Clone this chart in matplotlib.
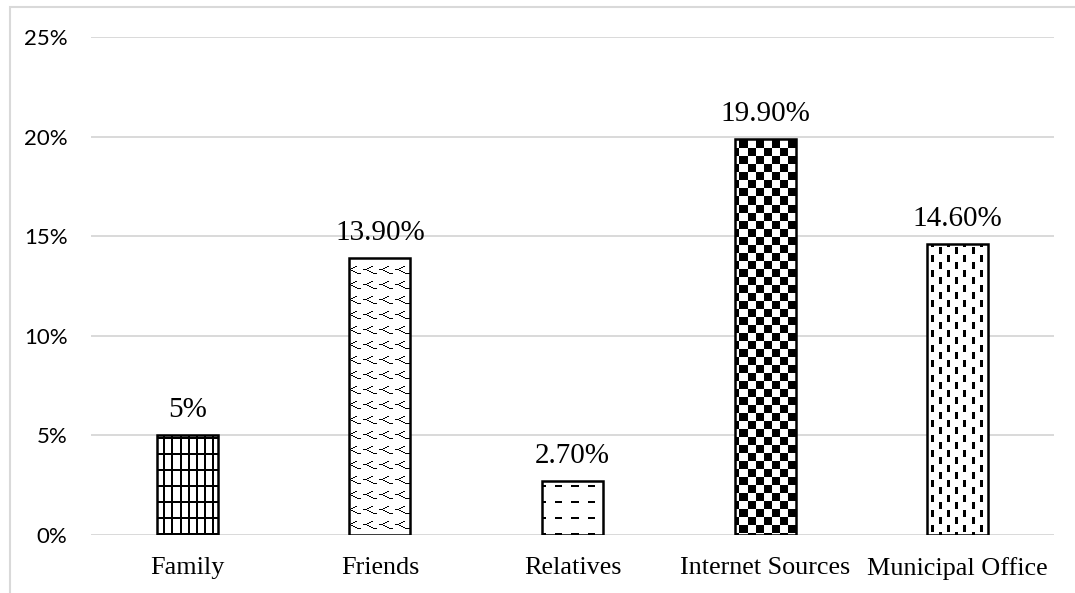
import numpy as np
import matplotlib
matplotlib.use("Agg")
import matplotlib.pyplot as plt
from matplotlib.patches import Rectangle

# Data
categories = ["Family", "Friends", "Relatives", "Internet Sources", "Municipal Office"]
values = [5.0, 13.9, 2.7, 19.9, 14.6]
yticks = [0, 5, 10, 15, 20, 25]
ytick_labels = ["0%", "5%", "10%", "15%", "20%", "25%"]


def value_label(v):
    return f"{v:g}%" if float(v).is_integer() else f"{v:.2f}%"


FIG_W, FIG_H, DPI = 1075, 593, 100
fig = plt.figure(figsize=(FIG_W / DPI, FIG_H / DPI), dpi=DPI)
fig.patch.set_facecolor("white")

ax_left, ax_right, ax_bottom, ax_top = 91, 1054, 535, 37
ax = fig.add_axes([ax_left / FIG_W, 1 - ax_bottom / FIG_H,
                   (ax_right - ax_left) / FIG_W, (ax_bottom - ax_top) / FIG_H])
xlim = (-0.5, len(categories) - 0.5)
ylim = (0, 25)

# Light frame around the chart area
fig.patches.append(Rectangle((10 / FIG_W, -0.2), 1.5, 1.2 - 7 / FIG_H,
                             transform=fig.transFigure, fill=False,
                             edgecolor="#d9d9d9", linewidth=1.5))

# Fill textures, built on the axes pixel grid
wpx = ax_right - ax_left
hpx = ax_bottom - ax_top
yy, xx = np.mgrid[0:hpx, 0:wpx]


def grid_tex():
    return ((xx % 8) < 2) | ((yy % 16) < 2)


def wave_tex():
    t = np.zeros((15, 16), dtype=bool)
    pts_up = [(7, 2), (6, 4), (5, 6), (4, 8)]
    pts_dn = [(8, 4), (9, 6), (10, 8), (11, 10)]
    for r, c in pts_up + pts_dn:
        t[r, c:c + 2] = True
    t[7, 0:3] = True
    t[11, 11:14] = True
    return np.tile(t, (hpx // 15 + 1, wpx // 16 + 1))[:hpx, :wpx]


def dash_tex():
    return ((xx % 16) < 7) & ((yy % 16) < 2)


def checker_tex():
    return ((xx // 8) + (yy // 8)) % 2 == 0


def vdash_tex():
    col = xx // 8
    shift = (col % 2) * 7
    return ((xx % 8) < 3) & (((yy + shift) % 15) < 7)


textures = [grid_tex(), wave_tex(), dash_tex(), checker_tex(), vdash_tex()]

x = np.arange(len(categories))
bar_w = 0.317

# Gridlines
for t in yticks:
    ax.axhline(t, color="#d9d9d9", linewidth=1.4, zorder=0)

bars = ax.bar(x, values, width=bar_w, facecolor="white", edgecolor="none", zorder=1)
for b, tex in zip(bars, textures):
    im = ax.imshow(tex.astype(float), cmap="gray_r", vmin=0, vmax=1,
                   extent=(xlim[0], xlim[1], ylim[0], ylim[1]), origin="upper",
                   aspect="auto", interpolation="nearest", zorder=2)
    im.set_clip_path(b)
ax.bar(x, values, width=bar_w, facecolor="none", edgecolor="black",
       linewidth=1.8, zorder=3)

for xi, v in zip(x, values):
    ax.annotate(value_label(v), (xi, v), xytext=(0, 13), textcoords="offset points",
                ha="center", va="baseline", fontsize=21,
                fontfamily="Liberation Serif", color="black")

ax.set_xlim(*xlim)
ax.set_ylim(*ylim)
ax.set_yticks(yticks)
ax.set_yticklabels(ytick_labels, fontfamily="Lato", fontsize=16)
ax.set_xticks(x)
ax.set_xticklabels(categories, fontfamily="Liberation Serif", fontsize=18.8)
ax.tick_params(axis="y", length=0, pad=17)
ax.tick_params(axis="x", length=0, pad=16)
for s in ax.spines.values():
    s.set_visible(False)
ax.set_facecolor("none")

fig.savefig("out.png", dpi=DPI, facecolor="white")
